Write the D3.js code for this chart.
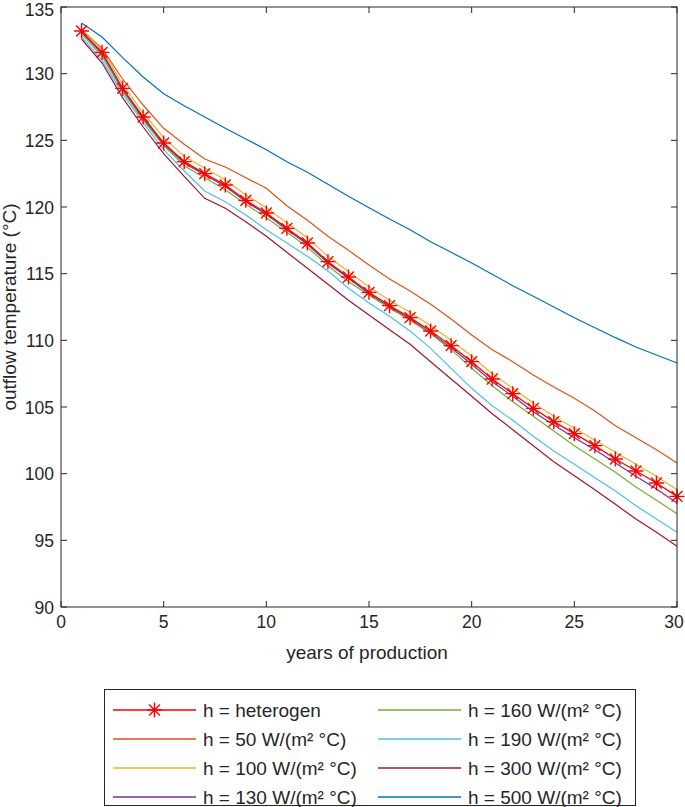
<!DOCTYPE html>
<html><head><meta charset="utf-8">
<script src="https://cdn.jsdelivr.net/npm/d3@7"></script>
<style>
html,body{margin:0;padding:0;background:#fff;}
svg text{font-family:"Liberation Sans",Arial,Helvetica,sans-serif;fill:#262626;}
</style></head>
<body>
<svg id="c" width="685" height="807"></svg>
<script>
const years = d3.range(1, 31);
const hHeterogen = [133.2,131.6,128.9,126.75,124.8,123.4,122.5,121.65,120.5,119.55,118.4,117.3,115.9,114.75,113.6,112.6,111.7,110.7,109.6,108.4,107.1,106.0,104.9,103.9,103.0,102.1,101.1,100.2,99.3,98.3];
const h50  = [133.3,131.9,129.6,127.65,125.9,124.7,123.6,123.0,122.2,121.4,120.1,119.0,117.8,116.75,115.65,114.6,113.7,112.7,111.6,110.4,109.3,108.4,107.4,106.5,105.65,104.7,103.6,102.7,101.8,100.8];
const h100 = [133.3,131.8,129.2,127.05,125.2,123.8,122.9,122.05,120.9,119.95,118.8,117.7,116.3,115.15,114.0,113.0,112.1,111.1,110.0,108.8,107.5,106.4,105.3,104.3,103.4,102.5,101.6,100.7,99.8,98.8];
const h130 = [133.1,131.5,128.8,126.65,124.7,123.3,122.4,121.55,120.4,119.45,118.3,117.2,115.8,114.65,113.5,112.5,111.6,110.55,109.45,108.2,106.9,105.8,104.65,103.65,102.7,101.8,100.8,99.8,98.85,97.8];
const h160 = [133.0,131.3,128.7,126.5,124.6,123.1,122.2,121.3,120.2,119.2,118.1,117.0,115.6,114.4,113.4,112.4,111.5,110.5,109.3,107.9,106.6,105.4,104.3,103.2,102.1,101.1,100.1,99.0,98.0,97.0];
const h190 = [132.8,131.0,128.5,126.3,124.3,122.7,121.2,120.4,119.4,118.3,117.3,116.3,115.2,113.9,112.8,111.8,110.7,109.4,107.9,106.4,105.1,104.0,102.8,101.7,100.7,99.7,98.7,97.6,96.6,95.6];
const h300 = [132.6,130.8,128.2,126.0,124.0,122.3,120.65,119.9,118.9,117.8,116.6,115.4,114.2,113.0,111.9,110.8,109.7,108.4,107.1,105.8,104.5,103.3,102.1,100.9,99.85,98.8,97.7,96.6,95.6,94.55];
const h500 = [133.8,132.75,131.2,129.75,128.5,127.6,126.75,125.9,125.1,124.3,123.4,122.6,121.7,120.8,119.95,119.1,118.3,117.4,116.6,115.8,114.95,114.1,113.3,112.5,111.7,110.95,110.2,109.5,108.9,108.3];
const seriesNames = ["h = heterogen","h = 50 W/(m² °C)","h = 100 W/(m² °C)","h = 130 W/(m² °C)","h = 160 W/(m² °C)","h = 190 W/(m² °C)","h = 300 W/(m² °C)","h = 500 W/(m² °C)"];
const seriesColors = ["#FF0000","#D95319","#EDB120","#7E2F8E","#77AC30","#4DBEEE","#A2142F","#0072BD"];
const seriesValues = [hHeterogen,h50,h100,h130,h160,h190,h300,h500];
const xTicks = [0,5,10,15,20,25,30];
const yTicks = [90,95,100,105,110,115,120,125,130,135];

const svg = d3.select("#c");
const L=61, R=677, T=7, B=607;
const x = d3.scaleLinear().domain([0,30]).range([L,R]);
const y = d3.scaleLinear().domain([90,135]).range([B,T]);
const axisColor = "#262626";

const line = d3.line().x((d,i)=>x(years[i])).y(d=>y(d));
const plot = svg.append("g");
seriesValues.forEach((vals,k)=>{
  plot.append("path").attr("d", line(vals)).attr("fill","none")
    .attr("stroke", seriesColors[k]).attr("stroke-width", k===0?1.3:1.2);
});
function star(g, cx, cy, r){
  const d = r*0.72;
  const p = `M${cx-r},${cy}L${cx+r},${cy}M${cx},${cy-r}L${cx},${cy+r}M${cx-d},${cy-d}L${cx+d},${cy+d}M${cx-d},${cy+d}L${cx+d},${cy-d}`;
  g.append("path").attr("d",p).attr("stroke","#FF0000").attr("stroke-width",1.4).attr("fill","none");
}
const mk = svg.append("g");
hHeterogen.forEach((v,i)=>star(mk, x(years[i]), y(v), 7.5));

const ax = svg.append("g");
ax.append("rect").attr("x",L).attr("y",T).attr("width",R-L).attr("height",B-T)
  .attr("fill","none").attr("stroke",axisColor).attr("stroke-width",1);
const tl = 6;
xTicks.forEach(t=>{
  ax.append("line").attr("x1",x(t)).attr("x2",x(t)).attr("y1",B).attr("y2",B-tl).attr("stroke",axisColor);
  ax.append("line").attr("x1",x(t)).attr("x2",x(t)).attr("y1",T).attr("y2",T+tl).attr("stroke",axisColor);
  const lx = Math.min(x(t), 674);
  ax.append("text").attr("x",lx).attr("y",B+21).attr("text-anchor","middle").attr("font-size",17.5).text(t);
});
yTicks.forEach(t=>{
  ax.append("line").attr("x1",L).attr("x2",L+tl).attr("y1",y(t)).attr("y2",y(t)).attr("stroke",axisColor);
  ax.append("line").attr("x1",R).attr("x2",R-tl).attr("y1",y(t)).attr("y2",y(t)).attr("stroke",axisColor);
  ax.append("text").attr("x",L-7).attr("y",Math.max(y(t)+6.5,16)).attr("text-anchor","end").attr("font-size",17.5).text(t);
});
ax.append("text").attr("x",(L+R)/2-2).attr("y",659).attr("text-anchor","middle").attr("font-size",19).text("years of production");
ax.append("text").attr("transform",`translate(16,${(T+B)/2}) rotate(-90)`).attr("text-anchor","middle").attr("font-size",19).text("outflow temperature (°C)");

const lg = svg.append("g");
lg.append("rect").attr("x",104.5).attr("y",689.5).attr("width",531).attr("height",116).attr("fill","#fff").attr("stroke",axisColor).attr("stroke-width",1);
const rowY = [710,739,768,797];
const colX = [{l1:113,l2:196,t:203},{l1:378,l2:461,t:468}];
seriesNames.forEach((n,k)=>{
  const c = colX[Math.floor(k/4)], ry = rowY[k%4];
  lg.append("line").attr("x1",c.l1).attr("x2",c.l2).attr("y1",ry).attr("y2",ry).attr("stroke",seriesColors[k]).attr("stroke-width",1.3);
  if(k===0) star(lg,(c.l1+c.l2)/2,ry,7.5);
  lg.append("text").attr("x",c.t).attr("y",ry+7).attr("font-size",19).text(n);
});
</script>
</body></html>
